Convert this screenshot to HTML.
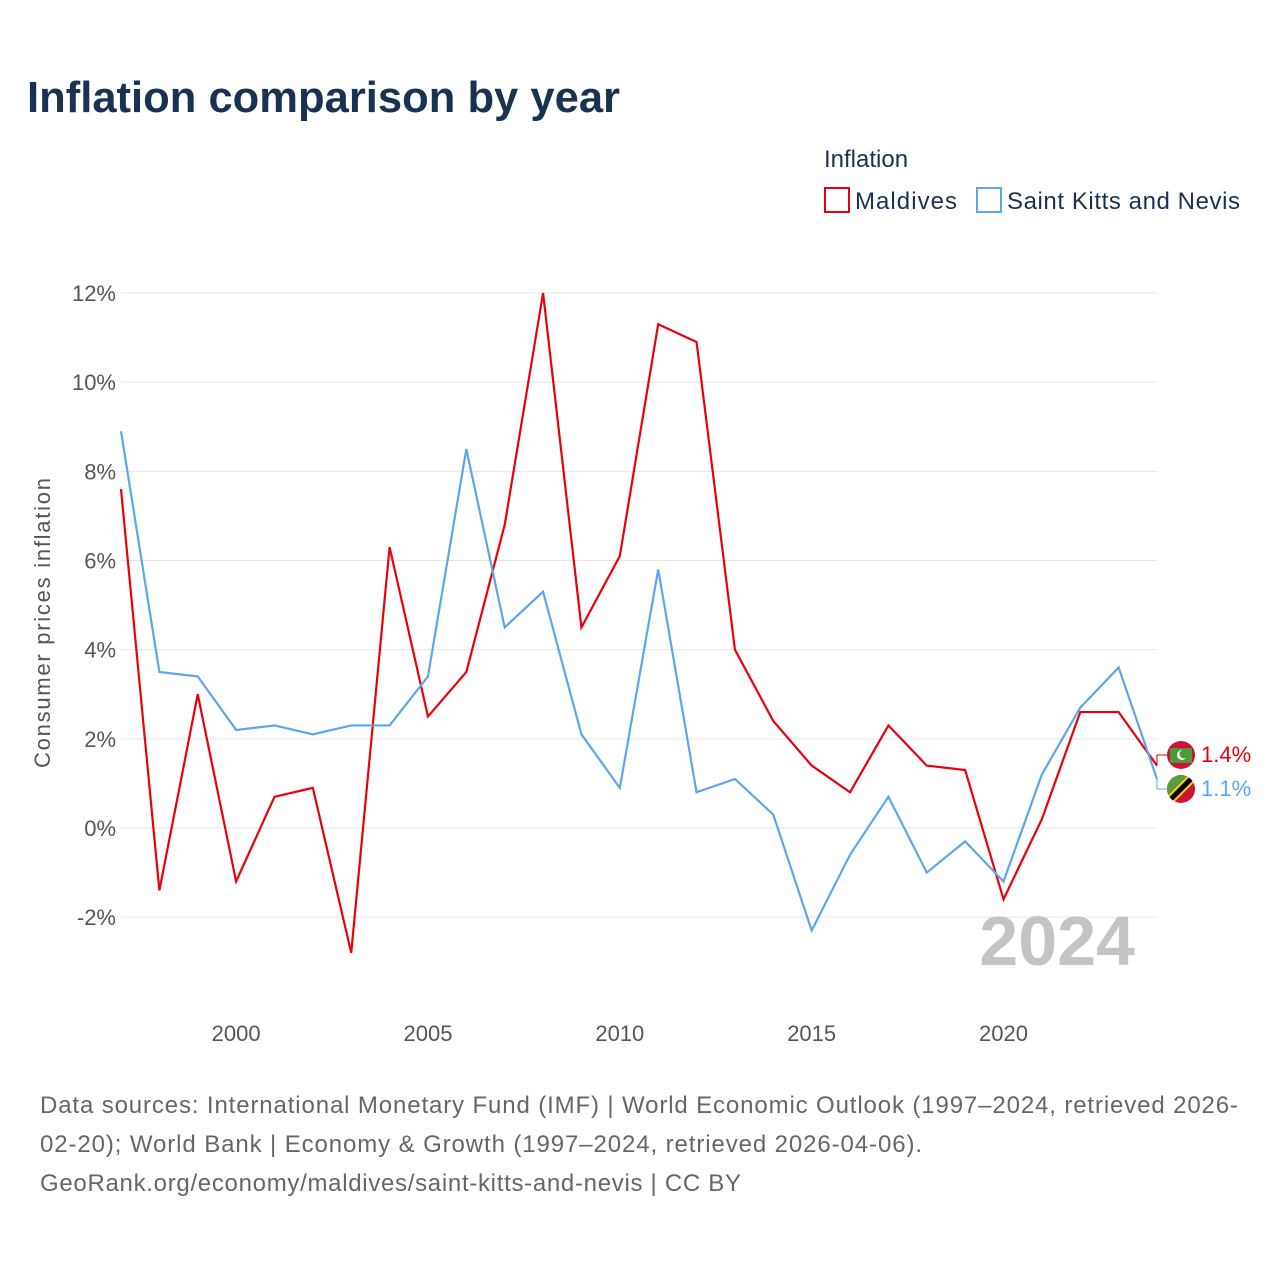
<!DOCTYPE html>
<html><head><meta charset="utf-8">
<style>
body{margin:0;width:1280px;height:1280px;background:#fff;font-family:"Liberation Sans",sans-serif;overflow:hidden}
svg text{font-family:"Liberation Sans",sans-serif}
</style></head>
<body>
<svg id="c" width="1280" height="1280">
<text x="27" y="112" font-size="44" font-weight="bold" fill="#1a3152" textLength="593" lengthAdjust="spacingAndGlyphs">Inflation comparison by year</text>
<text x="824" y="167" font-size="24" fill="#1a3152">Inflation</text>
<g><rect x="825" y="188" width="24" height="24" fill="none" stroke="#e8000b" stroke-width="2"/><text x="855" y="209" font-size="24" fill="#1a3152" textLength="102">Maldives</text></g>
<g><rect x="977" y="188" width="24" height="24" fill="none" stroke="#5da5ec" stroke-width="2"/><text x="1007" y="209" font-size="24" fill="#1a3152" textLength="233">Saint Kitts and Nevis</text></g>
<g id="grid"></g>
<g id="xt"></g>
<text transform="translate(50,623) rotate(-90)" text-anchor="middle" font-size="22" fill="#555" textLength="290">Consumer prices inflation</text>
<text x="1135" y="965" text-anchor="end" font-size="70" font-weight="bold" fill="#c4c4c4">2024</text>
<g id="series"></g>
<g><circle cx="1181" cy="755" r="14" fill="#d21034"/><rect x="1170" y="748" width="22" height="15" fill="#4e9a3a"/><circle cx="1182" cy="755" r="5" fill="#fff"/><circle cx="1184" cy="754" r="4.5" fill="#4e9a3a"/></g>
<g><clipPath id="fc"><circle cx="1181" cy="789" r="14"/></clipPath><g clip-path="url(#fc)"><rect x="1165" y="773" width="32" height="32" fill="#d21034"/><polygon points="1165,773 1197,773 1165,805" fill="#5a9e3a"/><line x1="1165" y1="805" x2="1197" y2="773" stroke="#fcd116" stroke-width="9"/><line x1="1165" y1="805" x2="1197" y2="773" stroke="#000" stroke-width="5"/></g></g>
<text x="1201" y="762" font-size="22" fill="#e8000b">1.4%</text>
<text x="1201" y="796" font-size="22" fill="#5da5ec">1.1%</text>
<text font-size="24" fill="#666"><tspan x="40" y="1113" textLength="1198">Data sources: International Monetary Fund (IMF) | World Economic Outlook (1997–2024, retrieved 2026-</tspan><tspan x="40" y="1152" textLength="882">02-20); World Bank | Economy &amp; Growth (1997–2024, retrieved 2026-04-06).</tspan><tspan x="40" y="1191" textLength="701">GeoRank.org/economy/maldives/saint-kitts-and-nevis | CC BY</tspan></text>
</svg>
<script>
const years=[1997,1998,1999,2000,2001,2002,2003,2004,2005,2006,2007,2008,2009,2010,2011,2012,2013,2014,2015,2016,2017,2018,2019,2020,2021,2022,2023,2024];
const maldives=[7.6,-1.4,3.0,-1.2,0.7,0.9,-2.8,6.3,2.5,3.5,6.8,12.0,4.5,6.1,11.3,10.9,4.0,2.4,1.4,0.8,2.3,1.4,1.3,-1.6,0.2,2.6,2.6,1.4];
const skn=[8.9,3.5,3.4,2.2,2.3,2.1,2.3,2.3,3.4,8.5,4.5,5.3,2.1,0.9,5.8,0.8,1.1,0.3,-2.3,-0.6,0.7,-1.0,-0.3,-1.2,1.2,2.7,3.6,1.1];
const yTicks=[-2,0,2,4,6,8,10,12];
const xTicks=[2000,2005,2010,2015,2020];
const X=y=>121+(y-1997)*(1157-121)/27;
const Y=v=>828-v*(828-293)/12;
const NS="http://www.w3.org/2000/svg";
function mk(t,a,p){const e=document.createElementNS(NS,t);for(const k in a)e.setAttribute(k,a[k]);p.appendChild(e);return e;}
const grid=document.getElementById('grid');
yTicks.forEach(v=>{
 const l=mk('line',{x1:121,x2:1157,y1:Y(v),y2:Y(v),stroke:'#e6e6e6','stroke-width':1},grid);
 
 
 const t=mk('text',{x:116,y:Y(v)+8,'text-anchor':'end','font-size':22,fill:'#555'},grid);
 t.textContent=v+'%';
 
 
});
const xt=document.getElementById('xt');
xTicks.forEach(v=>{
 const t=mk('text',{x:X(v),y:1041,'text-anchor':'middle','font-size':22,fill:'#555'},xt);
 t.textContent=v;
 
 
});
const s=document.getElementById('series');
const p1=mk('polyline',{points:years.map((y,i)=>X(y)+','+Y(maldives[i])).join(' '),fill:'none',stroke:'#e8000b','stroke-width':2.2},s);


const p2=mk('polyline',{points:years.map((y,i)=>X(y)+','+Y(skn[i])).join(' '),fill:'none',stroke:'#5da5ec','stroke-width':2.2},s);


const c1=mk('polyline',{points:`${X(2024)},${Y(maldives[27])} 1157,755 1167,755`,fill:'none',stroke:'#e8000b','stroke-width':1},s);


const c2=mk('polyline',{points:`${X(2024)},${Y(skn[27])} 1157,789 1167,789`,fill:'none',stroke:'#5da5ec','stroke-width':1},s);


</script>
</body></html>
